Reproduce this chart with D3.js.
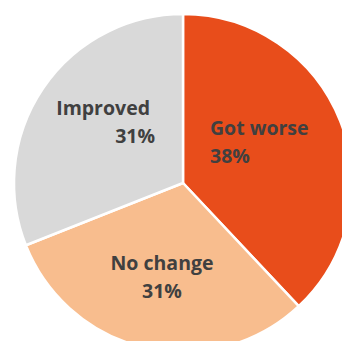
<!DOCTYPE html>
<html>
<head>
<meta charset="utf-8">
<script src="https://cdn.jsdelivr.net/npm/d3@7"></script>
<style>
  html, body { margin: 0; padding: 0; background: #fff; }
  svg { display: block; }
</style>
</head>
<body>
<script>
const categories = ["Got worse", "No change", "Improved"];
const values = [38, 31, 31];
const colors = ["#E84D1B", "#F8BD8E", "#D9D9D9"];

const width = 342;
const height = 341;
const cx = 183;
const cy = 183;
const radius = 169;

// label anchor points relative to the centre: x of each line, baseline of the first
const labelPos = [
  { x1: 27, x2: 27, y: -48, anchor: "start" },
  { x1: -21, x2: -21, y: 87, anchor: "middle" },
  { x1: -33, x2: -28, y: -68, anchor: "end" }
];

const svg = d3.select("body").append("svg")
  .attr("width", width)
  .attr("height", height);

const pie = d3.pie().sort(null).value(d => d.value);
const arc = d3.arc().innerRadius(0).outerRadius(radius);

const data = categories.map((c, i) => ({ name: c, value: values[i], color: colors[i] }));
const g = svg.append("g").attr("transform", `translate(${cx},${cy})`);

g.selectAll("path")
  .data(pie(data))
  .join("path")
  .attr("d", arc)
  .attr("fill", d => d.data.color)
  .attr("stroke", "#fff")
  .attr("stroke-width", 2.5)
  .attr("stroke-linejoin", "round");

data.forEach((d, i) => {
  const p = labelPos[i];
  const t = g.append("text")
    .attr("y", p.y)
    .attr("text-anchor", p.anchor)
    .style("font-family", "'Open Sans', sans-serif")
    .style("font-weight", "700")
    .style("font-size", "19.5px")
    .style("fill", "#404040");
  t.append("tspan").attr("x", p.x1).text(d.name);
  t.append("tspan").attr("x", p.x2).attr("dy", 28).text(`${d.value}%`);
});
</script>
</body>
</html>
